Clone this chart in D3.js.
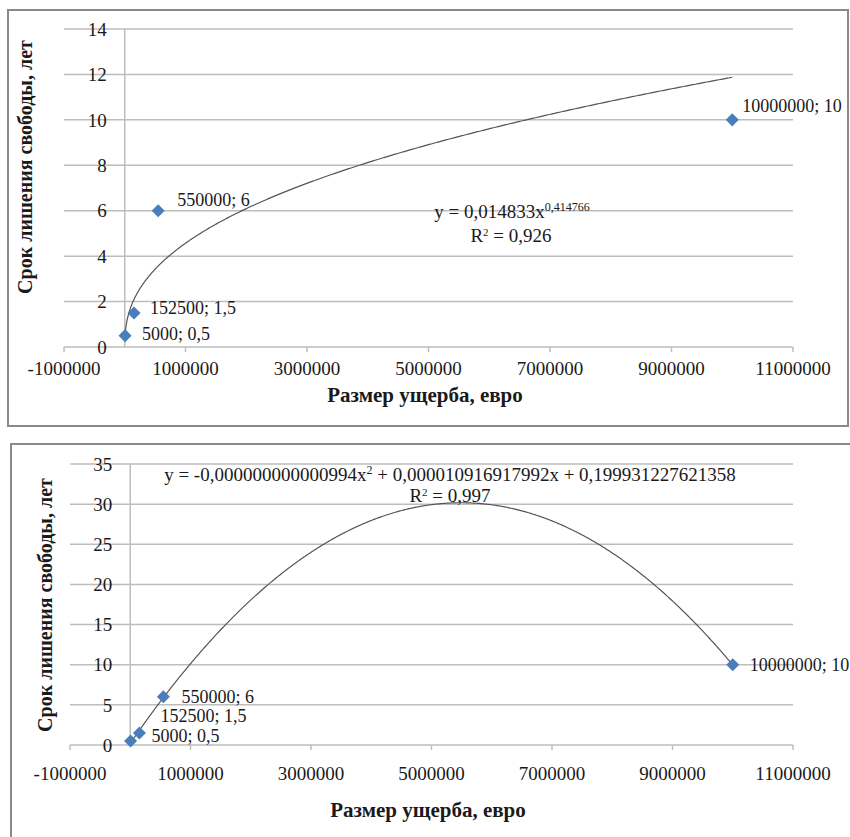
<!DOCTYPE html>
<html>
<head>
<meta charset="utf-8">
<script src="https://cdn.jsdelivr.net/npm/d3@7"></script>
<style>
  body { margin: 0; background: #fff; }
  svg { display: block; }
</style>
</head>
<body>
<svg id="c" width="850" height="837"></svg>
<script>
// data
const damage = [5000, 152500, 550000, 10000000];
const term = [0.5, 1.5, 6, 10];
const pointLabels = ["5000; 0,5", "152500; 1,5", "550000; 6", "10000000; 10"];
const xTicks = [-1000000, 1000000, 3000000, 5000000, 7000000, 9000000, 11000000];
const yTicksTop = [0, 2, 4, 6, 8, 10, 12, 14];
const yTicksBottom = [0, 5, 10, 15, 20, 25, 30, 35];
const powerCoef = [0.014833, 0.414766];             // y = a * x^b
const polyCoef = [-0.000000000000994, 0.000010916917992, 0.199931227621358]; // a x^2 + b x + c
const xTitle = "Размер ущерба, евро";
const yTitle = "Срок лишения свободы, лет";

const FONT = "'Liberation Serif', 'Times New Roman', serif";
const svg = d3.select("#c");

function txt(sel, size, bold) {
  return sel.attr("font-family", FONT)
    .attr("font-size", size)
    .attr("font-weight", bold ? "bold" : "normal")
    .attr("fill", "#1a1a1a");
}

function drawChart(cfg) {
  const g = svg.append("g");

  // frame
  g.append("rect")
    .attr("x", cfg.frame[0]).attr("y", cfg.frame[1])
    .attr("width", cfg.frame[2]).attr("height", cfg.frame[3])
    .attr("fill", "#fff").attr("stroke", "#8a8a8a").attr("stroke-width", 2);

  const x = d3.scaleLinear().domain([-1000000, 11000000]).range(cfg.xRange);
  const y = d3.scaleLinear().domain([0, cfg.yTicks[cfg.yTicks.length - 1]]).range(cfg.yRange);

  // horizontal grid
  g.selectAll(".grid").data(cfg.yTicks).enter().append("line")
    .attr("x1", x.range()[0]).attr("x2", x.range()[1])
    .attr("y1", d => y(d)).attr("y2", d => y(d))
    .attr("stroke", "#bdbdbd").attr("stroke-width", 1.5);

  // y axis line at x = 0
  g.append("line")
    .attr("x1", x(0)).attr("x2", x(0))
    .attr("y1", y.range()[0]).attr("y2", y.range()[1])
    .attr("stroke", "#bdbdbd").attr("stroke-width", 1.5);

  // x tick marks
  g.selectAll(".xt").data(xTicks).enter().append("line")
    .attr("x1", d => x(d)).attr("x2", d => x(d))
    .attr("y1", y(0)).attr("y2", y(0) + 5)
    .attr("stroke", "#bdbdbd").attr("stroke-width", 1.5);

  // y tick labels
  g.selectAll(".yl").data(cfg.yTicks).enter().append("text")
    .attr("x", x(0) - 18).attr("y", d => y(d))
    .attr("dy", "0.35em").attr("text-anchor", "end")
    .call(txt, 19)
    .text(d => d);

  // x tick labels
  g.selectAll(".xl").data(xTicks).enter().append("text")
    .attr("x", d => x(d)).attr("y", y(0) + cfg.xLabelGap)
    .attr("dy", "0.35em").attr("text-anchor", "middle")
    .call(txt, 19)
    .text(d => d);

  // axis titles
  g.append("text")
    .attr("x", cfg.xTitlePos[0]).attr("y", cfg.xTitlePos[1])
    .attr("dy", "0.35em").attr("text-anchor", "middle")
    .call(txt, 21, true)
    .text(xTitle);

  g.append("text")
    .attr("transform", `translate(${cfg.yTitlePos[0]},${cfg.yTitlePos[1]}) rotate(-90)`)
    .attr("dy", "0.35em").attr("text-anchor", "middle")
    .call(txt, 20, true)
    .text(yTitle);

  // trend line
  const xs = d3.range(0, 1001).map(i => damage[0] + (damage[damage.length - 1] - damage[0]) * Math.pow(i / 1000, 2));
  const line = d3.line().x(d => x(d)).y(d => y(cfg.trend(d)));
  g.append("path")
    .datum(xs)
    .attr("d", line)
    .attr("fill", "none").attr("stroke", "#555").attr("stroke-width", 1.2);

  // points
  g.selectAll(".pt").data(damage).enter().append("path")
    .attr("d", d3.symbol(d3.symbolSquare, 85))
    .attr("transform", (d, i) => `translate(${x(d)},${y(term[i])}) rotate(45)`)
    .attr("fill", "#4a7ebb");

  // point labels
  g.selectAll(".pl").data(damage).enter().append("text")
    .attr("x", (d, i) => x(d) + cfg.labelOffset[i][0])
    .attr("y", (d, i) => y(term[i]) + cfg.labelOffset[i][1])
    .attr("dy", "0.35em")
    .call(txt, 18)
    .text((d, i) => pointLabels[i]);

  // equation
  const eq = g.append("text")
    .attr("x", cfg.eqPos[0]).attr("y", cfg.eqPos[1])
    .attr("dy", "0.35em").attr("text-anchor", "middle")
    .call(txt, 19);
  cfg.eqParts.forEach(p => {
    eq.append("tspan")
      .attr("baseline-shift", p.sup ? "super" : null)
      .attr("font-size", p.sup ? 12 : null)
      .text(p.t);
  });
  g.append("text")
    .attr("x", cfg.r2Pos[0]).attr("y", cfg.r2Pos[1])
    .attr("dy", "0.35em").attr("text-anchor", "middle")
    .call(txt, 19)
    .call(t => {
      t.append("tspan").text("R");
      t.append("tspan").attr("baseline-shift", "super").attr("font-size", 11).text("2");
      t.append("tspan").text(" = " + cfg.r2);
    });
}

drawChart({
  frame: [8, 10, 840, 416],
  xRange: [64, 793],
  yRange: [347, 29],
  yTicks: yTicksTop,
  xLabelGap: 21,
  xTitlePos: [425, 395],
  yTitlePos: [25, 167],
  trend: v => powerCoef[0] * Math.pow(v, powerCoef[1]),
  labelOffset: [[17, -2], [16, -5], [19, -11], [10, -14]],
  eqParts: [{t: "y = 0,014833x"}, {t: "0,414766", sup: true}],
  eqPos: [512, 211],
  r2: "0,926",
  r2Pos: [511, 235]
});

drawChart({
  frame: [11, 444, 850, 400],
  xRange: [70, 793],
  yRange: [745, 464],
  yTicks: yTicksBottom,
  xLabelGap: 28,
  xTitlePos: [428, 810],
  yTitlePos: [45, 605],
  trend: v => polyCoef[0] * v * v + polyCoef[1] * v + polyCoef[2],
  labelOffset: [[21, -5], [21, -17], [18, 0], [17, 0]],
  eqParts: [{t: "y = -0,000000000000994x"}, {t: "2", sup: true}, {t: " + 0,000010916917992x + 0,199931227621358"}],
  eqPos: [450, 474],
  r2: "0,997",
  r2Pos: [450, 495]
});
</script>
</body>
</html>
